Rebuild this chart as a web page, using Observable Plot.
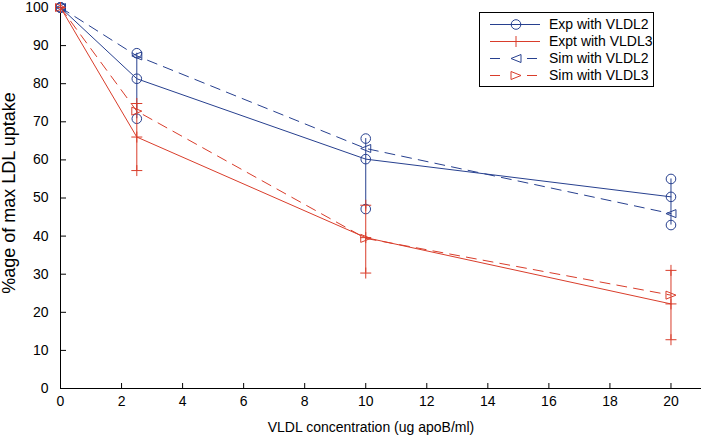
<!DOCTYPE html>
<html>
<head>
<meta charset="utf-8">
<script src="https://cdn.jsdelivr.net/npm/d3@7"></script>
<script src="https://cdn.jsdelivr.net/npm/@observablehq/plot@0.6"></script>
<style>
  html, body { margin: 0; padding: 0; background: #fff; }
  #chart { position: relative; width: 703px; height: 436px; }
</style>
</head>
<body>
<div id="chart"></div>
<script>
// ---- data ----
const conc = [0, 2.5, 10, 20];
const expV2 = [100, 81.3, 60.2, 50.3];
const expV2Hi = [100, 88.0, 65.6, 55.0];
const expV2Lo = [100, 70.8, 47.1, 42.9];
const expV3 = [100, 66.0, 39.6, 22.2];
const expV3Hi = [100, 74.8, 48.1, 31.0];
const expV3Lo = [100, 57.2, 30.3, 12.8];
const simV2 = [100, 87.3, 63.0, 45.9];
const simV3 = [100, 72.8, 39.4, 24.5];
const xTicks = [0, 2, 4, 6, 8, 10, 12, 14, 16, 18, 20];
const yTicks = [0, 10, 20, 30, 40, 50, 60, 70, 80, 90, 100];
const seriesNames = ["Exp with VLDL2", "Expt with VLDL3", "Sim with VLDL2", "Sim with VLDL3"];
const xTitle = "VLDL concentration (ug apoB/ml)";
const yTitle = "%age of max LDL uptake";

// ---- styling ----
const BLUE = "#27408f";
const RED = "#d93d2b";
const W = 703, H = 436;
const mL = 60, mR = 2, mT = 7, mB = 48;
const FONT = "'Liberation Sans', Arial, Helvetica, sans-serif";

const rowsE2 = conc.map((x, i) => ({x, y: expV2[i], hi: expV2Hi[i], lo: expV2Lo[i]}));
const rowsE3 = conc.map((x, i) => ({x, y: expV3[i], hi: expV3Hi[i], lo: expV3Lo[i]}));
const rowsS2 = conc.map((x, i) => ({x, y: simV2[i]}));
const rowsS3 = conc.map((x, i) => ({x, y: simV3[i]}));

// custom marker symbols (Matlab-like)
const triLeft = {draw(ctx, size) { const s = Math.sqrt(size / Math.PI); ctx.moveTo(-s, 0); ctx.lineTo(s, -0.8 * s); ctx.lineTo(s, 0.8 * s); ctx.closePath(); }};
const triRight = {draw(ctx, size) { const s = Math.sqrt(size / Math.PI); ctx.moveTo(s, 0); ctx.lineTo(-s, -0.8 * s); ctx.lineTo(-s, 0.8 * s); ctx.closePath(); }};
const plusSym = {draw(ctx, size) { const s = Math.sqrt(size / Math.PI); ctx.moveTo(-s, 0); ctx.lineTo(s, 0); ctx.moveTo(0, -s); ctx.lineTo(0, s); }};
const circSym = {draw(ctx, size) { const s = Math.sqrt(size / Math.PI); ctx.moveTo(s, 0); ctx.arc(0, 0, s, 0, 2 * Math.PI); ctx.closePath(); }};

const dotOpts = (stroke, symbol, r) => ({x: "x", stroke, fill: "none", symbol, r, strokeWidth: 1});

const chart = Plot.plot({
  width: W, height: H,
  marginLeft: mL, marginRight: mR, marginTop: mT, marginBottom: mB,
  style: {fontFamily: FONT, fontSize: "14px", background: "white", color: "black"},
  x: {domain: [0, 21]},
  y: {domain: [0, 100]},
  marks: [
    Plot.axisX(xTicks, {tickSize: -5, tickPadding: 13, label: null, fontSize: 14}),
    Plot.axisY(yTicks, {tickSize: -6, tickPadding: 18, label: null, fontSize: 14}),
    Plot.ruleY([0], {stroke: "black"}),
    Plot.ruleX([0], {stroke: "black"}),
    // Exp with VLDL2
    Plot.ruleX(rowsE2, {x: "x", y1: "lo", y2: "hi", stroke: BLUE, strokeWidth: 1}),
    Plot.line(rowsE2, {x: "x", y: "y", stroke: BLUE, strokeWidth: 1}),
    Plot.dot(rowsE2, {...dotOpts(BLUE, circSym, 4.8), y: "y"}),
    Plot.dot(rowsE2, {...dotOpts(BLUE, circSym, 4.8), y: "hi"}),
    Plot.dot(rowsE2, {...dotOpts(BLUE, circSym, 4.8), y: "lo"}),
    // Expt with VLDL3
    Plot.ruleX(rowsE3, {x: "x", y1: "lo", y2: "hi", stroke: RED, strokeWidth: 1}),
    Plot.line(rowsE3, {x: "x", y: "y", stroke: RED, strokeWidth: 1}),
    Plot.dot(rowsE3, {...dotOpts(RED, plusSym, 5.5), y: "y"}),
    Plot.dot(rowsE3, {...dotOpts(RED, plusSym, 5.5), y: "hi"}),
    Plot.dot(rowsE3, {...dotOpts(RED, plusSym, 5.5), y: "lo"}),
    // Sim with VLDL2
    Plot.line(rowsS2, {x: "x", y: "y", stroke: BLUE, strokeWidth: 1, strokeDasharray: "10,7"}),
    Plot.dot(rowsS2, {...dotOpts(BLUE, triLeft, 5), y: "y"}),
    // Sim with VLDL3
    Plot.line(rowsS3, {x: "x", y: "y", stroke: RED, strokeWidth: 1, strokeDasharray: "10,7"}),
    Plot.dot(rowsS3, {...dotOpts(RED, triRight, 5), y: "y"})
  ]
});

document.getElementById("chart").appendChild(chart);

// ---- titles & legend (layout drawn with d3) ----
const svg = d3.select(chart);

svg.append("text")
  .attr("x", 371).attr("y", 432)
  .attr("text-anchor", "middle")
  .attr("font-family", FONT).attr("font-size", 14).attr("fill", "black")
  .text(xTitle);

svg.append("text")
  .attr("transform", "translate(15,193) rotate(-90)")
  .attr("text-anchor", "middle")
  .attr("font-family", FONT).attr("font-size", 18).attr("fill", "black")
  .text(yTitle);

const lg = svg.append("g").attr("font-family", FONT).attr("font-size", 14);
lg.append("rect").attr("x", 479.5).attr("y", 12.5).attr("width", 174).attr("height", 74)
  .attr("fill", "white").attr("stroke", "black").attr("stroke-width", 1);

const legendItems = [
  {name: seriesNames[0], color: BLUE, dashed: false, sym: d3.symbol(circSym, Math.PI * 4.8 * 4.8)()},
  {name: seriesNames[1], color: RED, dashed: false, sym: d3.symbol(plusSym, Math.PI * 5.5 * 5.5)()},
  {name: seriesNames[2], color: BLUE, dashed: true, sym: d3.symbol(triLeft, Math.PI * 25)()},
  {name: seriesNames[3], color: RED, dashed: true, sym: d3.symbol(triRight, Math.PI * 25)()}
];
legendItems.forEach((d, i) => {
  const y = 24.5 + i * 17;
  const g = lg.append("g");
  if (d.dashed) {
    g.append("line").attr("x1", 490).attr("x2", 500).attr("y1", y).attr("y2", y).attr("stroke", d.color);
    g.append("line").attr("x1", 527).attr("x2", 537).attr("y1", y).attr("y2", y).attr("stroke", d.color);
  } else {
    g.append("line").attr("x1", 490).attr("x2", 540).attr("y1", y).attr("y2", y).attr("stroke", d.color);
  }
  g.append("path").attr("d", d.sym).attr("transform", `translate(516,${y})`)
    .attr("fill", "none").attr("stroke", d.color);
  g.append("text").attr("x", 549).attr("y", y).attr("dy", "0.35em")
    .attr("text-anchor", "start").attr("fill", "black").text(d.name);
});
</script>
</body>
</html>
